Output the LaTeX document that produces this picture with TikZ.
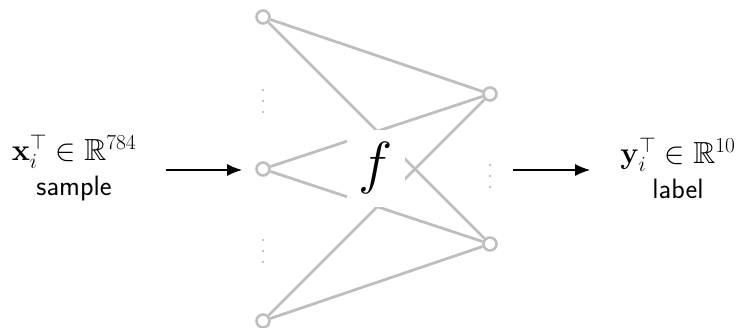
\RequirePackage{fix-cm}
\documentclass[tikz,border=0pt]{standalone}
\usepackage{amsmath,amssymb}
\usetikzlibrary{arrows.meta}
\definecolor{netgray}{RGB}{190,190,190}
\definecolor{dotgray}{RGB}{170,170,170}
\tikzset{
  neuron/.style={circle,draw=netgray,line width=2.6pt,fill=white,minimum size=13pt,inner sep=0pt},
  edge/.style={draw=netgray,line width=2.8pt},
  flow/.style={draw=black,line width=1.2pt,-{Latex[length=15pt,width=12pt]}},
  txt/.style={align=center,font=\fontsize{28}{34}\selectfont},
  vdot/.style={fill=dotgray,draw=none},
}
\newcommand{\bigmath}[1]{{\fontsize{30.5}{34}\selectfont$#1$}}
\begin{document}
\begin{tikzpicture}[x=1pt,y=-1pt]
\useasboundingbox (0,0) rectangle (740,328);
% input and output neurons
\node[neuron] (i1) at (263,17) {};
\node[neuron] (i2) at (263,169) {};
\node[neuron] (i3) at (263,321) {};
\node[neuron] (o1) at (490,94) {};
\node[neuron] (o2) at (490,244) {};
% edges
\foreach \a in {i1,i2,i3}{
  \foreach \b in {o1,o2}{
    \path[edge] (\a) -- (\b);
  }
}
% function label covering the crossing
\node[fill=white,minimum width=58pt,minimum height=77pt,inner sep=0pt] (f) at (376,168.5) {\fontsize{58}{60}\selectfont$f$};
% dots
\foreach \y in {90,101,112,240,251,262}{\fill[vdot] (263,\y) circle (1.2);}
\foreach \y in {165,176,187}{\fill[vdot] (490,\y) circle (1.2);}
% texts
\node[txt] (x) at (74,168) {\bigmath{\mathbf{x}_i^{\top}\in\mathbb{R}^{784}}\\[1pt]\textsf{sample}};
\node[txt] (y) at (678,168) {\bigmath{\mathbf{y}_i^{\top}\in\mathbb{R}^{10}}\\[1pt]\textsf{label}};
% arrows
\coordinate (a1) at (166,170);
\coordinate (a2) at (242,170);
\coordinate (b1) at (513,170);
\coordinate (b2) at (590,170);
\draw[flow] (a1) -- (a2);
\draw[flow] (b1) -- (b2);
\end{tikzpicture}
\end{document}
